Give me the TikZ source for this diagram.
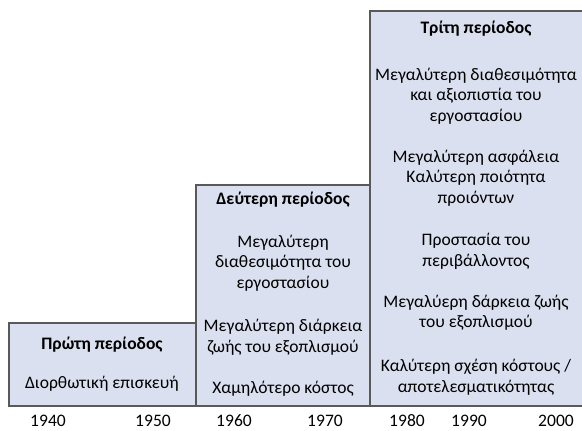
\documentclass[tikz,border=0pt]{standalone}
\usepackage{fontspec}
\setmainfont{Carlito}[Numbers=Lining]
\begin{document}
\begin{tikzpicture}[x=1bp,y=-1bp,
  period/.style={draw=black!65,line width=1.2bp,fill=boxfill},
  txt/.style={align=center,inner sep=0pt,font=\fontsize{17.6}{20.6}\selectfont},
  ttl/.style={align=center,inner sep=0pt,font=\fontsize{17.6}{20.6}\selectfont\bfseries},
  yr/.style={inner sep=0pt,font=\fontsize{17.6}{20.6}\selectfont}]
\definecolor{boxfill}{HTML}{DAE0EF}
\useasboundingbox (0,0) rectangle (582,430);
\draw[period] (9,323) rectangle (196,406);
\draw[period] (196,185) rectangle (370,406);
\draw[period] (370,11) rectangle (590,406);
% box 1
\node[ttl] (t1) at (102,345) {Πρώτη περίοδος};
\node[txt] (a1) at (102,384) {Διορθωτική επισκευή};
% box 2
\node[ttl] (t2) at (283,200) {Δεύτερη περίοδος};
\node[txt] (b1) at (283,263) {Μεγαλύτερη\\διαθεσιμότητα του\\εργοστασίου};
\node[txt] (b2) at (283,337) {Μεγαλύτερη διάρκεια\\ζωής του εξοπλισμού};
\node[txt] (b3) at (283,389) {Χαμηλότερο κόστος};
% box 3
\node[ttl] (t3) at (476,29) {Τρίτη περίοδος};
\node[txt] (c1) at (476,96) {Μεγαλύτερη διαθεσιμότητα\\και αξιοπιστία του\\εργοστασίου};
\node[txt] (c2) at (476,178) {Μεγαλύτερη ασφάλεια\\Καλύτερη ποιότητα\\προιόντων};
\node[txt] (c3) at (476,251.5) {Προστασία του\\περιβάλλοντος};
\node[txt] (c4) at (476,312.5) {Μεγαλύερη δάρκεια ζωής\\του εξοπλισμού};
\node[txt] (c5) at (476,377) {Καλύτερη σχέση κόστους /\\αποτελεσματικότητας};
% years
\node[yr] (y1) at (48,421) {1940};
\node[yr] (y2) at (153,421) {1950};
\node[yr] (y3) at (234,421) {1960};
\node[yr] (y4) at (325,421) {1970};
\node[yr] (y5) at (407,421) {1980};
\node[yr] (y6) at (469,421) {1990};
\node[yr] (y7) at (556,421) {2000};
\end{tikzpicture}
\end{document}
